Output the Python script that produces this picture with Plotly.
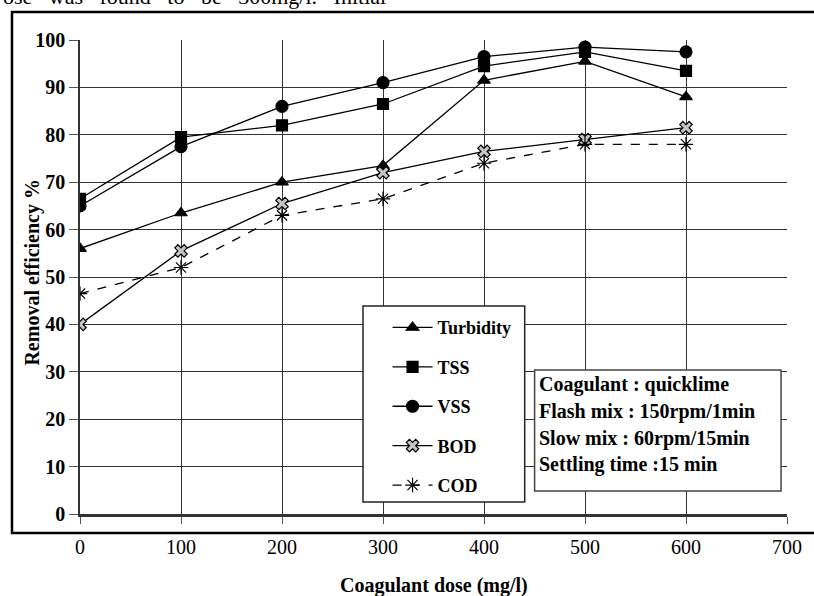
import plotly.graph_objects as go

dose = [0, 100, 200, 300, 400, 500, 600]
turbidity = [56, 63.5, 70, 73.5, 91.5, 95.5, 88]
tss = [66.5, 79.5, 82, 86.5, 94.5, 97.5, 93.5]
vss = [65, 77.5, 86, 91, 96.5, 98.5, 97.5]
bod = [40, 55.5, 65.5, 72, 76.5, 79, 81.5]
cod = [46.5, 52, 63, 66.5, 74, 78, 78]

x_ticks = [0, 100, 200, 300, 400, 500, 600, 700]
y_ticks = [0, 10, 20, 30, 40, 50, 60, 70, 80, 90, 100]

info_lines = ["Coagulant : quicklime", "Flash mix : 150rpm/1min",
              "Slow mix : 60rpm/15min", "Settling time :15 min"]

SERIF = "Times New Roman"

fig = go.Figure()

def add(name, y, symbol, size, fill="black", dash="solid", lw=1.3):
    fig.add_trace(go.Scatter(
        x=dose, y=y, name=name, mode="lines+markers",
        legendgroup=name,
        line=dict(color="black", width=lw, dash=dash),
        marker=dict(symbol=symbol, size=size, color=fill,
                    line=dict(color="black", width=1.2)),
    ))

add("Turbidity", turbidity, "triangle-up", 11)
add("TSS", tss, "square", 11)
add("VSS", vss, "circle", 12)
add("BOD", bod, "x", 11, fill="#c4c4c4")
add("COD", cod, "asterisk-open", 12, dash="dash")

# legend box and info box
fig.add_shape(type="rect", xref="paper", yref="paper",
              x0=0.4003, x1=0.629, y0=0.0253, y1=0.4388,
              line=dict(color="#222", width=1.5), fillcolor="white", layer="above")
fig.add_shape(type="rect", xref="paper", yref="paper",
              x0=0.643, x1=0.9916, y0=0.0485, y1=0.3038,
              line=dict(color="#444", width=1.5), fillcolor="white", layer="above")
# outer frame
fig.add_shape(type="rect", xref="paper", yref="paper",
              x0=-0.0962, x1=1.05, y0=-0.0401, y1=1.059,
              line=dict(color="black", width=2.5), fillcolor="rgba(0,0,0,0)", layer="above")

ys = [0.2722, 0.2152, 0.1603, 0.1034]
for t, yy in zip(info_lines, ys):
    fig.add_annotation(x=0.6457, y=yy, xref="paper", yref="paper", text=t,
                       showarrow=False, xanchor="left", yanchor="middle",
                       font=dict(family=SERIF, size=20, color="black", weight="bold"))

fig.add_annotation(x=-0.0865, y=0.51, xref="paper", yref="paper",
                   text="Removal efficiency %", textangle=-90, showarrow=False,
                   font=dict(family=SERIF, size=20, color="black", weight="bold"))
fig.add_annotation(x=0.5, y=-0.1498, xref="paper", yref="paper",
                   text="Coagulant dose (mg/l)", showarrow=False, yanchor="middle",
                   font=dict(family=SERIF, size=20, color="black", weight="bold"))
nb = "\u00a0\u00a0\u00a0"
fig.add_annotation(x=-0.1116, y=1.061, xref="paper", yref="paper",
                   text=nb.join(["ose", "was", "found", "to", "be", "300mg/l.", "Initial"]),
                   showarrow=False, xanchor="left", yanchor="bottom",
                   font=dict(family=SERIF, size=22, color="black"))

fig.update_layout(
    width=814, height=596,
    margin=dict(l=80, r=17, t=40, b=82),
    paper_bgcolor="white", plot_bgcolor="white",
    showlegend=True,
    legend=dict(x=0.435, y=0.432, xanchor="left", yanchor="top",
                bgcolor="rgba(0,0,0,0)", borderwidth=0,
                tracegroupgap=13, itemwidth=40,
                font=dict(family=SERIF, size=18, color="black", weight="bold")),
    xaxis=dict(range=[0, 700], tickvals=x_ticks, ticks="outside", ticklen=7,
               ticklabelstandoff=6,
               tickcolor="#555", showgrid=True, gridcolor="#333", gridwidth=1,
               showline=True, linecolor="#333", linewidth=2.5, zeroline=False,
               tickfont=dict(family=SERIF, size=20, color="black")),
    yaxis=dict(range=[0, 100], tickvals=y_ticks, ticks="outside", ticklen=9,
               tickcolor="#555", showgrid=True, gridcolor="#333", gridwidth=1,
               showline=True, linecolor="#333", linewidth=1.5, zeroline=False,
               tickfont=dict(family=SERIF, size=20, color="black", weight="bold")),
)

fig.write_html("out.html")
